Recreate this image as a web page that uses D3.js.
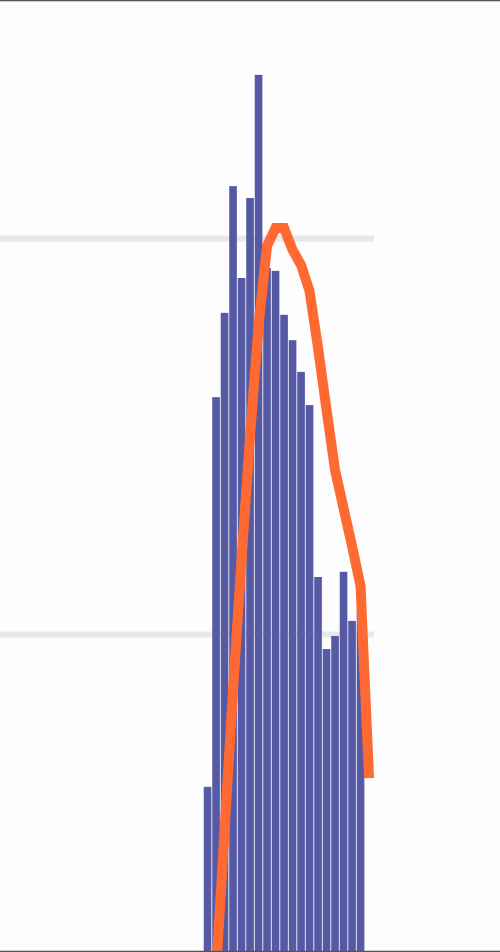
<!DOCTYPE html>
<html>
<head>
<meta charset="utf-8">
<script src="https://cdn.jsdelivr.net/npm/d3@7/dist/d3.min.js"></script>
<style>
  html, body { margin: 0; padding: 0; background: #fefdfe; }
  svg { display: block; }
</style>
</head>
<body>
<script>
// Bin indices (categories)
const bins = d3.range(20).map(i => "b" + i);
// Bar values per bin (last bin has no bar)
const barValues = [61.4, 159.8, 181.1, 213.1, 189.9, 210.1, 241.2, 192.4, 191.7, 180.6,
                   174.2, 166.2, 157.8, 114.4, 96.2, 99.5, 115.7, 103.3, 105.6, null];
// Line values per bin (first bin not drawn)
const lineValues = [null, 14.6, 50.3, 85.9, 118.9, 150.0, 178.0, 198.0, 202.5, 202.5,
                    197.0, 193.2, 186.6, 172.2, 156.6, 141.4, 131.8, 122.2, 112.1, 63.6];
// Gridline tick values
const yTicks = [100, 200];

const W = 500, H = 952;
const svg = d3.select("body").append("svg").attr("width", W).attr("height", H);

const x = d3.scaleBand().domain(bins).range([203.3, 373.3]).paddingInner(0.1).paddingOuter(0.05);
const y = d3.scaleLinear().domain([0, 200]).range([1030, 238]);

// gridlines
const grid = svg.append("g").attr("transform", "translate(0,0)")
  .call(d3.axisRight(y).tickValues(yTicks).tickSize(374).tickFormat(""));
grid.select(".domain").remove();
grid.selectAll(".tick line").attr("stroke", "#e8e7ee").attr("stroke-width", 6);

// bars
svg.append("g").selectAll("rect")
  .data(bins.map((b, i) => ({ b, v: barValues[i] })).filter(d => d.v != null))
  .join("rect")
  .attr("x", d => x(d.b))
  .attr("width", x.bandwidth())
  .attr("y", d => y(d.v))
  .attr("height", d => y(0) - y(d.v))
  .attr("fill", "#5659a3");

// line
const line = d3.line()
  .defined(d => d.v != null)
  .x(d => x(d.b) + x.bandwidth() / 2)
  .y(d => y(d.v));
svg.append("path")
  .datum(bins.map((b, i) => ({ b, v: lineValues[i] })))
  .attr("d", line)
  .attr("fill", "none")
  .attr("stroke", "#ff6a33")
  .attr("stroke-width", 10);

// frame lines
svg.append("line").attr("x1", 0).attr("x2", W).attr("y1", 0.5).attr("y2", 0.5)
  .attr("stroke", "#555").attr("stroke-width", 1.5);
svg.append("line").attr("x1", 0).attr("x2", W).attr("y1", 951.5).attr("y2", 951.5)
  .attr("stroke", "#555").attr("stroke-width", 1.5);
</script>
</body>
</html>
